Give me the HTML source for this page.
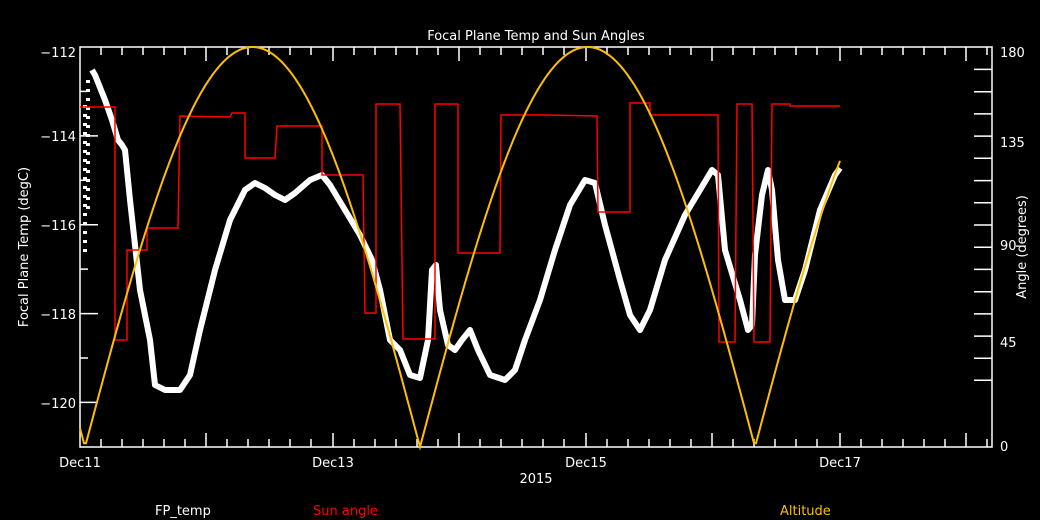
<!DOCTYPE html>
<html><head><style>body{margin:0;background:#000}svg{display:block}text{font-family:"DejaVu Sans","Liberation Sans",sans-serif;font-size:13px;fill:#fff}</style></head>
<body>
<svg width="1040" height="520" viewBox="0 0 1040 520">
<rect width="1040" height="520" fill="#000"/>
<text x="536" y="40" text-anchor="middle" font-size="14">Focal Plane Temp and Sun Angles</text>
<g stroke="#fff" stroke-width="1.5" fill="none">
<rect x="80" y="47" width="912" height="400"/>
<path d="M80,91.4h8M80,135.9h18M80,180.3h8M80,224.7h18M80,269.1h8M80,313.6h18M80,358h8M80,402.4h18M992,380.3h-18M992,358.3h-18M992,336.1h-18M992,313.9h-18M992,291.7h-18M992,269.4h-18M992,247.2h-18M992,225h-18M992,202.8h-18M992,180.6h-18M992,158.3h-18M992,136.1h-18M992,113.9h-18M992,91.7h-18M992,69.4h-18"/>
<path d="M101,447v-8M122,447v-8M143,447v-8M164,447v-8M185,447v-8M206,447v-14M227,447v-8M248,447v-8M269,447v-8M290,447v-8M311,447v-8M333,447v-14M354,447v-8M375,447v-8M396,447v-8M417,447v-8M438,447v-8M459,447v-14M480,447v-8M501,447v-8M522,447v-8M543,447v-8M564,447v-8M586,447v-14M607,447v-8M628,447v-8M649,447v-8M670,447v-8M691,447v-8M712,447v-14M733,447v-8M754,447v-8M775,447v-8M796,447v-8M817,447v-8M840,447v-14M861,447v-8M882,447v-8M903,447v-8M924,447v-8M945,447v-8M966,447v-14M987,447v-8"/>
<path d="M101,47v8M122,47v8M143,47v8M164,47v8M185,47v8M206,47v14M227,47v8M248,47v8M269,47v8M290,47v8M311,47v8M333,47v14M354,47v8M375,47v8M396,47v8M417,47v8M438,47v8M459,47v14M480,47v8M501,47v8M522,47v8M543,47v8M564,47v8M586,47v14M607,47v8M628,47v8M649,47v8M670,47v8M691,47v8M712,47v14M733,47v8M754,47v8M775,47v8M796,47v8M817,47v8M840,47v14M861,47v8M882,47v8M903,47v8M924,47v8M945,47v8M966,47v14M987,47v8"/>
</g>
<g text-anchor="end"><text x="76" y="57">−112</text><text x="76" y="141">−114</text><text x="76" y="230">−116</text><text x="76" y="319">−118</text><text x="76" y="408">−120</text></g>
<g><text x="1000" y="57">180</text><text x="1000" y="147">135</text><text x="1000" y="250">90</text><text x="1000" y="347">45</text><text x="1000" y="451">0</text></g>
<g text-anchor="middle"><text x="80" y="467">Dec11</text><text x="333" y="467">Dec13</text><text x="586" y="467">Dec15</text><text x="840" y="467">Dec17</text><text x="536" y="483">2015</text></g>
<text transform="translate(28,247) rotate(-90)" text-anchor="middle">Focal Plane Temp (degC)</text>
<text transform="translate(1026,247) rotate(-90)" text-anchor="middle">Angle (degrees)</text>
<polyline fill="none" stroke="#fff" stroke-width="6" stroke-linejoin="round" points="92,70 95,75 105,100 112,120 118,140 122,145 125,150 130,200 140,290 150,340 155,385 165,390 180,390 190,375 200,330 215,270 230,220 245,190 255,183 265,188 275,195 285,200 295,193 310,180 322,175 330,185 345,210 360,235 372,260 380,290 390,340 400,350 410,375 420,378 428,340 432,270 436,265 440,310 448,345 455,350 462,340 470,330 478,350 490,375 505,380 515,370 525,340 540,300 555,250 570,205 585,180 595,183 605,225 620,280 630,315 640,330 650,310 665,260 685,215 700,190 712,170 718,175 725,250 740,300 748,330 752,325 755,255 762,195 768,170 772,190 778,260 785,300 795,300 805,270 820,210 835,175 840,168"/>
<path d="M85,105v150M88,80v130" stroke="#fff" stroke-width="4" stroke-dasharray="3 6"/>
<polyline fill="none" stroke="#f00" stroke-width="1.5" points="80,107 115,107 115,340 127,340 127,250 147,250 147,228 178,228 180,116 230,117 232,113 245,113 245,158 275,158 277,126 322,126 322,175 363,175 365,313 376,313 376,104 400,104 403,339 435,339 435,104 458,104 458,253 500,253 501,115 545,115 597,116 598,212 630,212 630,103 650,103 650,115 718,115 719,342 735,342 737,104 752,104 754,342 770,342 772,104 790,104 790,106 840,106"/>
<polyline id="alt" fill="none" stroke="#ffbf00" stroke-width="2" points=""/>
<text x="155" y="515">FP_temp</text>
<text x="313" y="515" style="fill:#f00">Sun angle</text>
<text x="780" y="515" style="fill:#ffbf00">Altitude</text>
</svg>
<script>
var p=[];for(var x=80;x<=840;x+=2){var y=447-400*Math.abs(Math.sin(Math.PI*(x-85)/335));p.push(x+","+y.toFixed(1));}
document.getElementById("alt").setAttribute("points",p.join(" "));
</script>
</body></html>
